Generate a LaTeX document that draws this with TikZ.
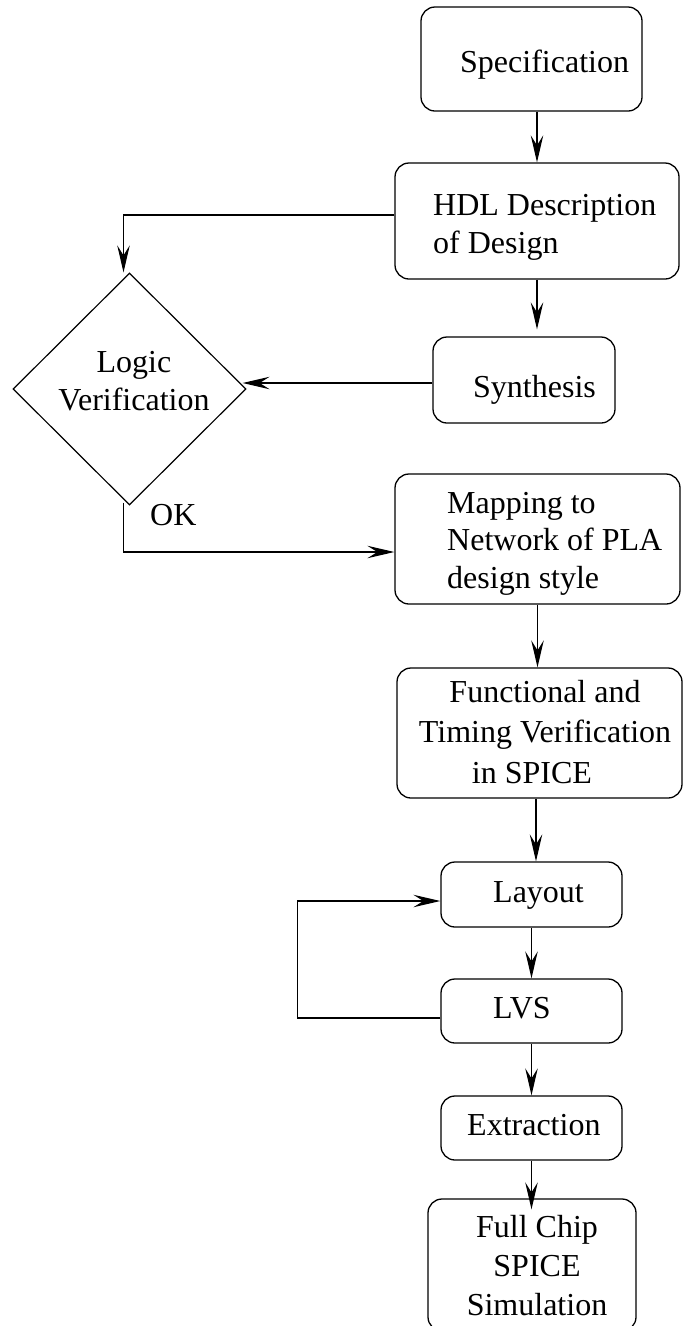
\documentclass[tikz,border=0pt]{standalone}
\usepackage{fontspec}
\setmainfont{Liberation Serif}
\usetikzlibrary{arrows.meta,shapes.geometric,calc}
\tikzset{
  box/.style={draw, rounded corners=14pt, line width=1.3pt, inner sep=0pt},
  lbl/.style={inner sep=0pt, font=\fontsize{32}{38}\selectfont},
  conn/.style={line width=1.2pt},
  arr/.style={conn, -{Stealth[length=27pt,width=12.5pt,inset=10pt]}},
}
\begin{document}
\begin{tikzpicture}[x=1pt,y=-1pt]
\useasboundingbox (0,0) rectangle (686,1326);

% process boxes
\node[box, minimum width=221pt, minimum height=104pt] (spec)  at (531.5,59)   {};
\node[box, minimum width=284pt, minimum height=116pt] (hdl)   at (537,221)    {};
\node[box, minimum width=182pt, minimum height=86pt]  (synth) at (524,380)    {};
\node[box, minimum width=285pt, minimum height=130pt] (map)   at (537.5,539)  {};
\node[box, minimum width=285pt, minimum height=130pt] (func)  at (539.5,733)  {};
\node[box, minimum width=181pt, minimum height=65pt]  (lay)   at (531.5,894.5){};
\node[box, minimum width=181pt, minimum height=64pt]  (lvs)   at (531.5,1011) {};
\node[box, minimum width=181pt, minimum height=64pt]  (ext)   at (531.5,1128) {};
\node[box, minimum width=208pt, minimum height=132pt] (full)  at (532,1265)   {};

% decision
\node[draw, diamond, line width=1.2pt, inner sep=0pt, aspect=1,
      minimum width=233pt, minimum height=232pt] (lv) at (129.5,389) {};

% texts (multi-line labels are anchored at the baseline of their last line)
\node[lbl, anchor=base west] (specT) at (460,72) {Specification};
\node[lbl, anchor=base west, align=left] (hdlT) at (433,253) {HDL Description\\of Design};
\node[lbl, anchor=base, align=center] (lvT) at (134,410) {Logic\\Verification};
\node[lbl, anchor=base west] (synthT) at (473,397) {Synthesis};
\node[lbl, anchor=base west] (okT) at (150,525) {OK};
\node[lbl, anchor=base west, align=left, font=\fontsize{32}{37.5}\selectfont] (mapT) at (447,588)
  {Mapping to\\Network of PLA\\design style};
\node[lbl, anchor=base, align=center, font=\fontsize{32}{40.5}\selectfont] (funcT) at (545,783)
  {Functional and\\Timing Verification\\in SPICE\hspace*{26pt}};
\node[lbl, anchor=base west] (layT) at (493,902) {Layout};
\node[lbl, anchor=base west] (lvsT) at (493,1018) {LVS};
\node[lbl, anchor=base west] (extT) at (467,1135) {Extraction};
\node[lbl, anchor=base, align=center, font=\fontsize{32}{39}\selectfont] (fullT) at (537,1315)
  {Full Chip\\SPICE\\Simulation};

% connectors
\draw[arr] (hdl.north |- spec.south) -- (hdl.north);
\draw[arr] (hdl.south) -- ($(hdl.south |- synth.north)+(0,-7)$);
\draw[arr] ([yshift=6pt]hdl.west) -| ($(lv.north)+(-6,0)$);
\draw[arr] ($(synth.west)+(0,3)$) -- ($(lv.east)+(-4,-6)$);
\draw[arr] ($(lv.south)+(-6,-3)$) |- ($(map.west)+(0,13)$);
\draw[arr] (map.south) -- (map.south |- func.north);
\draw[arr] ($(func.south)+(-3.5,0)$) -- ($(func.south |- lay.north)+(-3.5,0)$);
\draw[arr] (lay.south) -- (lay.south |- lvs.north);
\coordinate (loop) at ($(lvs.west)+(-143,7)$);
\draw[arr] ($(lvs.west)+(0,7)$) -- (loop) |- ($(lay.west)+(0,6.5)$);
\draw[arr] (lvs.south) -- (lvs.south |- ext.north);
\draw[arr] (ext.south) -- ($(ext.south |- full.north)+(0,11)$);
\end{tikzpicture}
\end{document}
